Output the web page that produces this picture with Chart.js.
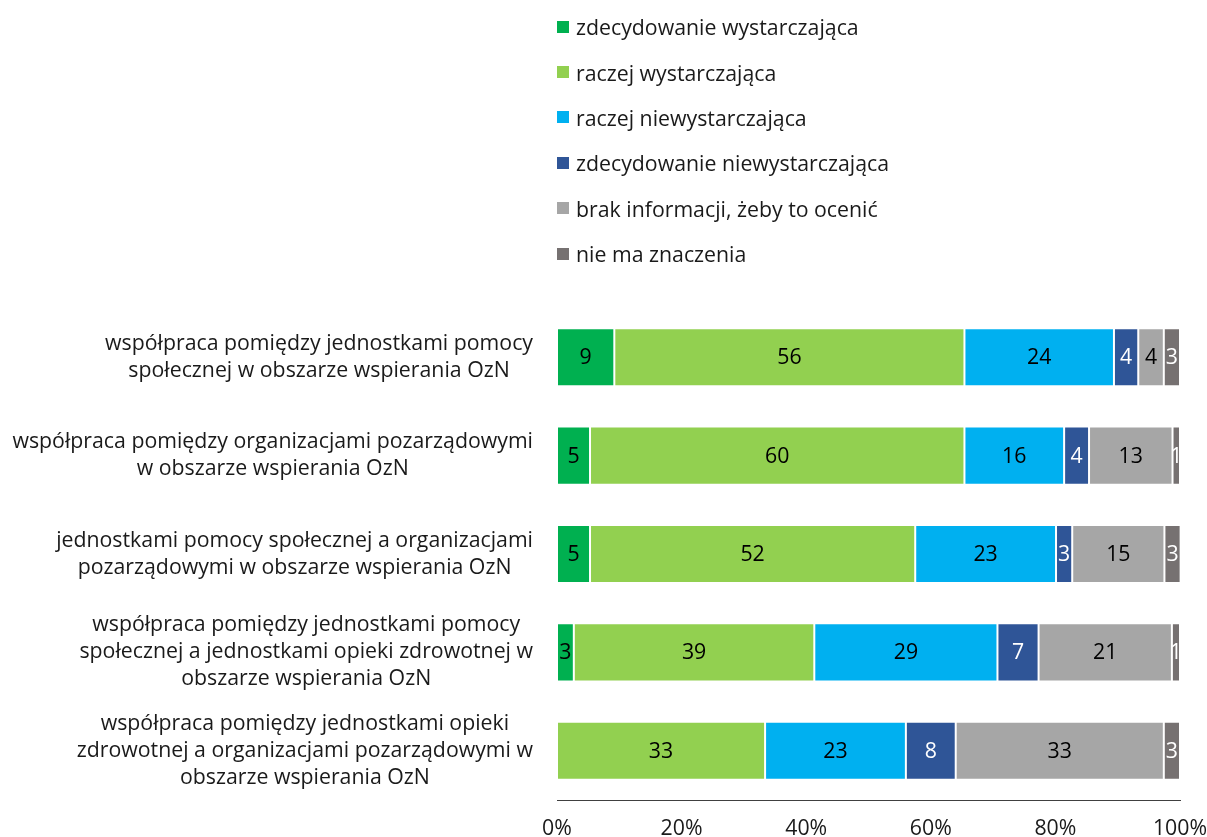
<!DOCTYPE html>
<html>
<head>
<meta charset="utf-8">
<script src="https://cdn.jsdelivr.net/npm/chart.js@4.4.0/dist/chart.umd.min.js"></script>
<style>
  html, body { margin: 0; padding: 0; background: #fff; }
  #wrap { position: relative; width: 1207px; height: 837px; }
  #legend { position: absolute; left: 557px; top: 4px; font-family: "Open Sans", sans-serif; font-size: 21.3px; color: #1a1a1a; }
  #legend div { height: 45.4px; display: flex; align-items: center; white-space: nowrap; }
  #legend span.box { display: inline-block; width: 12px; height: 12px; margin-right: 7px; }
</style>
</head>
<body>
<div id="wrap">
  <canvas id="myChart" width="1207" height="837"></canvas>
  <div id="legend"></div>
</div>
<script>
/*----------- data ------------ */
const categories = [
    ['współpraca pomiędzy jednostkami pomocy', 'społecznej w obszarze wspierania OzN'],
    ['współpraca pomiędzy organizacjami pozarządowymi', 'w obszarze wspierania OzN'],
    ['jednostkami pomocy społecznej a organizacjami', 'pozarządowymi w obszarze wspierania OzN'],
    ['współpraca pomiędzy jednostkami pomocy', 'społecznej a jednostkami opieki zdrowotnej w', 'obszarze wspierania OzN'],
    ['współpraca pomiędzy jednostkami opieki', 'zdrowotnej a organizacjami pozarządowymi w', 'obszarze wspierania OzN'],
];

const seriesNames = [
    'zdecydowanie wystarczająca',
    'raczej wystarczająca',
    'raczej niewystarczająca',
    'zdecydowanie niewystarczająca',
    'brak informacji, żeby to ocenić',
    'nie ma znaczenia',
];

// percentages per series, one value per category (top to bottom)
const zdecWyst   = [9.2, 5.3, 5.3, 2.7, 0];
const raczejWyst = [56.2, 60.1, 52.2, 38.6, 33.4];
const raczejNie  = [24.0, 16.0, 22.6, 29.4, 22.6];
const zdecNie    = [3.9, 4.0, 2.6, 6.6, 8.0];
const brakInfo   = [4.1, 13.4, 14.8, 21.4, 33.4];
const bezZnacz   = [2.6, 1.2, 2.6, 1.3, 2.6];

const xTicks = [0, 20, 40, 60, 80, 100];

const colors = ['#00B050', '#92D050', '#00B0F0', '#2F5597', '#A6A6A6', '#767171'];
const labelColors = ['#000', '#000', '#000', '#fff', '#000', '#fff'];
const FONT = '"Open Sans", sans-serif';
const FSIZE = 21.3;

const allSeries = [zdecWyst, raczejWyst, raczejNie, zdecNie, brakInfo, bezZnacz];

/*----------- legend ------------ */
const legendEl = document.getElementById('legend');
seriesNames.forEach((name, i) => {
    const row = document.createElement('div');
    row.innerHTML = '<span class="box" style="background:' + colors[i] + '"></span>' + name;
    legendEl.appendChild(row);
});

/*----------- plugins ------------ */
const barLabels = {
    id: 'barLabels',
    afterDatasetsDraw(chart) {
        const ctx = chart.ctx;
        const area = chart.chartArea;
        ctx.save();
        ctx.beginPath();
        ctx.rect(area.left, area.top, area.right - area.left, area.bottom - area.top);
        ctx.clip();
        ctx.font = FSIZE + 'px ' + FONT;
        ctx.textAlign = 'center';
        ctx.textBaseline = 'middle';
        chart.data.datasets.forEach((ds, di) => {
            const meta = chart.getDatasetMeta(di);
            meta.data.forEach((bar, i) => {
                const v = ds.data[i];
                if (!v) return;
                ctx.fillStyle = labelColors[di];
                ctx.fillText(String(Math.round(v)), (bar.x + bar.base) / 2, bar.y + 1);
            });
        });
        ctx.restore();
    }
};

const catLabels = {
    id: 'catLabels',
    afterDraw(chart) {
        const ctx = chart.ctx;
        const yScale = chart.scales.y;
        const right = chart.chartArea.left - 24;
        const lh = 27;
        ctx.save();
        ctx.font = FSIZE + 'px ' + FONT;
        ctx.fillStyle = '#1a1a1a';
        ctx.textAlign = 'center';
        ctx.textBaseline = 'middle';
        categories.forEach((lines, i) => {
            const yc = yScale.getPixelForValue(i);
            const maxW = Math.max(...lines.map(l => ctx.measureText(l).width));
            const xc = right - maxW / 2;
            lines.forEach((l, j) => {
                ctx.fillText(l, xc, yc + (j - (lines.length - 1) / 2) * lh);
            });
        });
        ctx.restore();
    }
};

/*----------- chart ------------ */
const data = {
    labels: categories.map(c => c.join(' ')),
    datasets: allSeries.map((vals, i) => ({
        label: seriesNames[i],
        data: vals,
        backgroundColor: colors[i],
        borderColor: '#ffffff',
        borderWidth: 1,
        borderSkipped: false,
        categoryPercentage: 1,
        barPercentage: 0.59,
    }))
};

const config = {
    type: 'bar',
    data: data,
    options: {
        indexAxis: 'y',
        responsive: false,
        animation: false,
        layout: { padding: { left: 557, right: 27, top: 308, bottom: 0 } },
        plugins: {
            legend: { display: false },
            tooltip: { enabled: false }
        },
        scales: {
            x: {
                stacked: true,
                min: 0,
                max: 100,
                afterBuildTicks(scale) {
                    scale.ticks = xTicks.map(v => ({ value: v }));
                },
                afterFit(scale) {
                    scale.height = 37;
                    scale.paddingRight = 0;
                    scale.paddingLeft = 0;
                },
                grid: { display: false, drawTicks: false },
                border: { display: true, color: '#404040', width: 1 },
                ticks: {
                    padding: 16,
                    color: '#1a1a1a',
                    font: { family: FONT, size: FSIZE },
                    maxRotation: 0,
                    callback: v => v + '%'
                }
            },
            y: {
                stacked: true,
                display: false
            }
        }
    },
    plugins: [barLabels, catLabels]
};

const myChart = new Chart(
    document.getElementById('myChart'),
    config
);
</script>
</body>
</html>
